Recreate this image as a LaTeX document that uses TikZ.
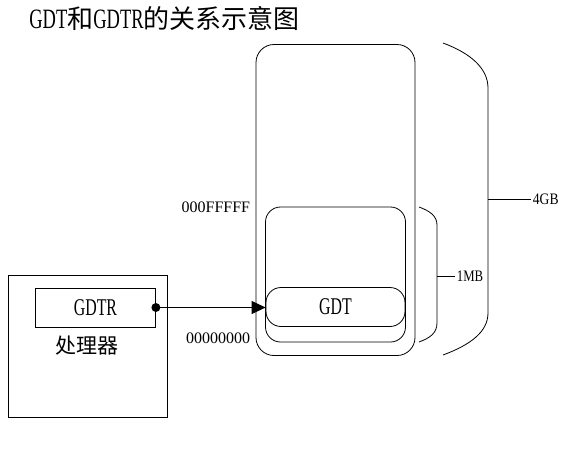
\documentclass[tikz,border=0pt]{standalone}
\usepackage{fontspec}
\usepackage{graphicx}
\setmainfont{Liberation Serif}
\newfontfamily\cjk{Noto Sans CJK SC}
\newcommand\cond[1]{\scalebox{0.66}[1]{#1}}
\usetikzlibrary{arrows.meta}
\tikzset{
    memblock/.style={draw, rounded corners=#1, inner sep=0pt},
    regbox/.style={draw, inner sep=0pt},
    big/.style={font=\fontsize{24}{26}\selectfont},
    small/.style={font=\fontsize{16}{18}\selectfont, inner sep=1.5pt}
}
\begin{document}
\begin{tikzpicture}[x=1pt, y=-1pt, line width=0.8pt]
            \useasboundingbox (0, 0) rectangle (566, 451);
            \node[anchor=west, inner sep=0pt, font=\fontsize{28}{30}\selectfont] (title) at (29, 18)
                {\cond{GDT}{\fontsize{26}{30}\cjk 和}\cond{GDTR}{\fontsize{26}{30}\cjk 的关系示意图}};
            % memory
            \node[memblock=18pt, minimum width=159pt, minimum height=311pt] (mem) at (335.5, 200) {};
            \node[memblock=15pt, minimum width=140pt, minimum height=135pt] (low) at (335.5, 274.5) {};
            \node[memblock=15pt, minimum width=139pt, minimum height=39pt, big] (gdt) at (335.5, 307) {\cond{GDT}};
            \node[small, anchor=east] (top) at (252, 207) {000FFFFF};
            \node[small, anchor=east] (bottom) at (252, 338) {00000000};
            % braces
            \node[small, anchor=west] (onemb) at (455, 276) {\scalebox{0.8}[1]{1MB}};
            \draw (419, 207) .. controls (430, 211) and (437, 216) .. (437, 225) -- (437, 323)
                .. controls (437, 333) and (430, 338) .. (419, 342);
            \draw (437, 276) -- (onemb.west);
            \node[small, anchor=west] (fourgb) at (531, 199) {\scalebox{0.85}[1]{4GB}};
            \draw (443, 43) .. controls (470, 53) and (488, 68) .. (488, 88) -- (488, 313)
                .. controls (488, 332) and (470, 345) .. (443, 355);
            \draw (488, 199) -- (fourgb.west);
            % processor
            \node[regbox, minimum width=159pt, minimum height=142pt] (cpu) at (87.5, 346.5) {};
            \node[regbox, minimum width=120pt, minimum height=39pt, big] (gdtr) at (95.5, 307.5) {\cond{GDTR}};
            \node[font=\fontsize{21}{24}\cjk] (cpulabel) at (87.5, 346) {处理器};
            \fill (gdtr.east) circle (4.5);
            \draw[-{Triangle[length=14pt, width=13pt]}] (gdtr.east) -- (gdtr.east -| gdt.west);
        \end{tikzpicture}
\end{document}
